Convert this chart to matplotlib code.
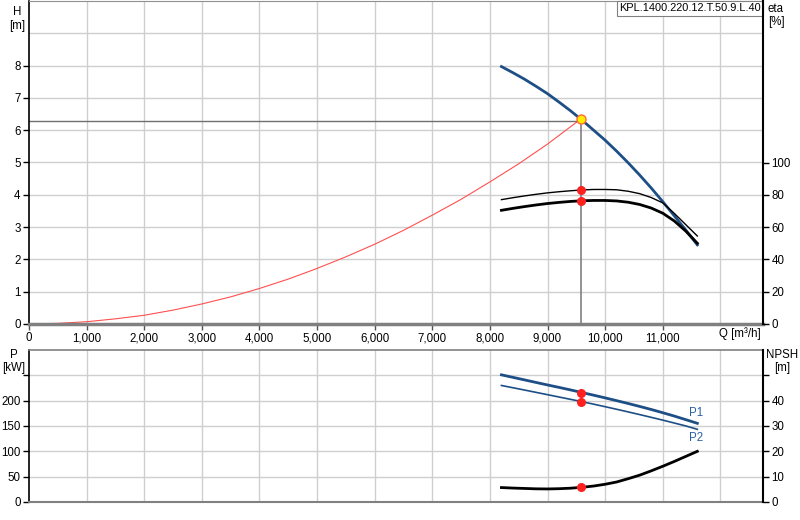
import matplotlib
matplotlib.use("Agg")
import matplotlib.pyplot as plt

plt.rcParams['font.family'] = ['Liberation Sans', 'DejaVu Sans']
plt.rcParams['font.size'] = 8

# ---- data ----
q_pump = [8200, 8400, 8600, 8800, 9000, 9200, 9400, 9600, 9800, 10000,
          10200, 10400, 10600, 10800, 11000, 11200, 11400, 11600]
h_pump = [7.97, 7.78, 7.58, 7.36, 7.13, 6.87, 6.60, 6.31, 6.00, 5.69,
          5.35, 4.99, 4.61, 4.21, 3.79, 3.35, 2.91, 2.45]
eta_upper = [77.0, 78.2, 79.3, 80.3, 81.2, 81.9, 82.5, 83.0, 83.3, 83.3,
             83.1, 82.2, 80.7, 78.3, 75.0, 68.5, 61.5, 54.5]
eta_lower = [70.4, 71.6, 72.7, 73.7, 74.6, 75.3, 75.9, 76.3, 76.5, 76.5,
             76.2, 75.4, 74.0, 71.8, 68.6, 63.8, 57.5, 50.0]
p1 = [251, 246, 241, 236, 231, 226.2, 221.2, 216, 210.8, 205.5,
      200, 194.4, 188.6, 182.6, 176.2, 169.6, 162.5, 155.3]
p2 = [230, 225.5, 221, 216.4, 211.8, 207.2, 202.6, 198, 193.1, 188.1,
      183, 177.8, 172.5, 167.1, 161.6, 155.9, 150.1, 143.5]
npsh = [5.7, 5.5, 5.35, 5.2, 5.15, 5.25, 5.45, 5.8, 6.3, 7.0,
        7.9, 9.2, 10.6, 12.3, 14.1, 16.0, 18.0, 20.0]

q_sys = [0, 500, 1000, 1500, 2000, 2500, 3000, 3500, 4000, 4500, 5000, 5500,
         6000, 6500, 7000, 7500, 8000, 8500, 9000, 9580]
h_sys = [0, 0.02, 0.07, 0.16, 0.27, 0.43, 0.62, 0.84, 1.1, 1.39, 1.72, 2.08,
         2.47, 2.9, 3.37, 3.86, 4.4, 4.96, 5.57, 6.35]

q_op = 9580
h_op = 6.35
eta_op = [83.0, 76.3]
p_op = [216, 198]
npsh_op = 5.8

x_ticks = [0, 1000, 2000, 3000, 4000, 5000, 6000, 7000, 8000, 9000, 10000, 11000]
x_labels = ['0', '1,000', '2,000', '3,000', '4,000', '5,000', '6,000', '7,000',
            '8,000', '9,000', '10,000', '11,000']
title = 'KPL.1400.220.12.T.50.9.L.40'

# ---- figure ----
W, H = 800, 520
fig = plt.figure(figsize=(8, 5.2), dpi=100)

def rect(x0, y0, x1, y1):
    return [x0 / W, 1 - y1 / H, (x1 - x0) / W, (y1 - y0) / H]

XMAX = 12740
grid_c = '#cfcfcf'
blue = '#1d4f86'
red = '#ff2020'
FS = 8.3

ax = fig.add_axes(rect(29, 1, 763, 324))
ax.set_xlim(0, XMAX)
ax.set_ylim(0, 10)
for gx in range(1000, 13000, 1000):
    ax.axvline(gx, color=grid_c, lw=1, zorder=0)
for gy in range(1, 10):
    ax.axhline(gy, color=grid_c, lw=1, zorder=0)

ax.plot(q_sys, h_sys, color='#ff5050', lw=0.8, zorder=2)
ax.plot([0, q_op], [h_op - 0.05, h_op - 0.05], color='#707070', lw=1, zorder=2)
ax.plot([q_op, q_op], [0, h_op], color='#808080', lw=1.2, zorder=2)
ax.plot(q_pump, h_pump, color=blue, lw=2, zorder=3)
ax.plot([q_op], [h_op], 'o', ms=6.5, mfc='#ffee00', mec='#ff6a3a', mew=1, zorder=6)

ax.set_yticks(range(0, 9))
ax.set_xticks(x_ticks)
ax.set_xticklabels(x_labels)
ax.tick_params(axis='both', direction='out', length=4, width=1, pad=2, labelsize=FS)
ax.tick_params(axis='x', color='#505050')
ax.spines['top'].set_color('#909090')
ax.spines['bottom'].set_color('#808080')
ax.spines['bottom'].set_linewidth(2.5)
ax.spines['left'].set_linewidth(1.2)
ax.spines['right'].set_visible(False)

ax2 = ax.twinx()
ax2.set_ylim(0, 200)
ax2.plot(q_pump, eta_upper, color='black', lw=1, zorder=3)
ax2.plot(q_pump, eta_lower, color='black', lw=2, zorder=3)
ax2.plot([q_op, q_op], eta_op, 'o', color=red, ms=5.5, zorder=6)
ax2.set_yticks(range(0, 101, 20))
ax2.tick_params(axis='y', direction='out', length=4, width=1, pad=2, labelsize=FS)
ax2.spines['right'].set_linewidth(1.5)
for s in ['top', 'left', 'bottom']:
    ax2.spines[s].set_visible(False)

fig.text(17 / W, 1 - 12 / H, 'H', ha='center', va='center', fontsize=FS)
fig.text(17 / W, 1 - 26 / H, '[m]', ha='center', va='center', fontsize=FS)
fig.text(776 / W, 1 - 9 / H, 'eta', ha='center', va='center', fontsize=FS)
fig.text(776 / W, 1 - 22 / H, '[%]', ha='center', va='center', fontsize=FS)
fig.text(740 / W, 1 - 334 / H, 'Q [m³/h]', ha='center', va='center', fontsize=FS)

ax.text(0.997, 0.993, title, transform=ax.transAxes, ha='right', va='top', fontsize=7.9,
        bbox=dict(boxstyle='square,pad=0.22', fc='white', ec='#808080', lw=0.8), zorder=10)

# ---- bottom plot ----
bx = fig.add_axes(rect(29, 350, 763, 502))
bx.set_xlim(0, XMAX)
bx.set_ylim(0, 300)
for gx in range(1000, 13000, 1000):
    bx.axvline(gx, color=grid_c, lw=1, zorder=0)
for gy in range(50, 300, 50):
    bx.axhline(gy, color=grid_c, lw=1, zorder=0)
bx.plot(q_pump, p1, color=blue, lw=2, zorder=3)
bx.plot(q_pump, p2, color=blue, lw=1.2, zorder=3)
bx.plot([q_op, q_op], p_op, 'o', color=red, ms=5.5, zorder=6)
bx.text(11450, 163, 'P1', color='#2a5fa5', fontsize=FS, ha='left', va='bottom')
bx.text(11450, 138, 'P2', color='#2a5fa5', fontsize=FS, ha='left', va='top')
bx.set_yticks([0, 50, 100, 150, 200, 250])
bx.set_yticklabels(['0', '50', '100', '150', '200', ''])
bx.set_xticks([])
bx.tick_params(axis='y', direction='out', length=4, width=1, pad=2, labelsize=FS)
bx.spines['top'].set_color('#808080')
bx.spines['top'].set_linewidth(1.2)
bx.spines['bottom'].set_color('#808080')
bx.spines['bottom'].set_linewidth(1.5)
bx.spines['left'].set_linewidth(1.2)
bx.spines['right'].set_visible(False)

bx2 = bx.twinx()
bx2.set_ylim(0, 60)
bx2.plot(q_pump, npsh, color='black', lw=2, zorder=3)
bx2.plot([q_op], [npsh_op], 'o', color=red, ms=5.5, zorder=6)
bx2.set_yticks([0, 10, 20, 30, 40, 50])
bx2.set_yticklabels(['0', '10', '20', '30', '40', ''])
bx2.tick_params(axis='y', direction='out', length=4, width=1, pad=2, labelsize=FS)
bx2.spines['right'].set_linewidth(1.5)
for s in ['top', 'left', 'bottom']:
    bx2.spines[s].set_visible(False)

fig.text(14 / W, 1 - 355 / H, 'P', ha='center', va='center', fontsize=FS)
fig.text(14 / W, 1 - 368 / H, '[kW]', ha='center', va='center', fontsize=FS)
fig.text(782 / W, 1 - 355 / H, 'NPSH', ha='center', va='center', fontsize=FS)
fig.text(782 / W, 1 - 368 / H, '[m]', ha='center', va='center', fontsize=FS)

fig.savefig('out.png', dpi=100)
